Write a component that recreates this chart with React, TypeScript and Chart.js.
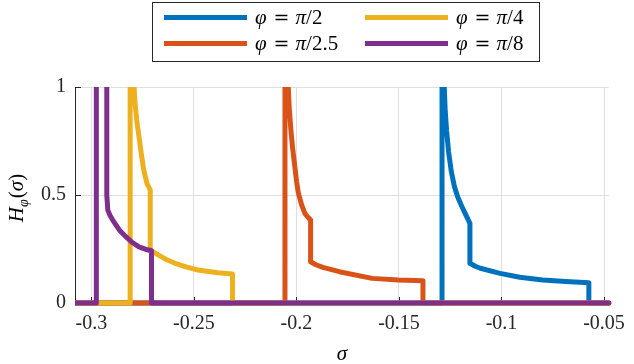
import React, { useEffect, useRef } from 'react';
import { Chart, registerables } from 'chart.js';

Chart.register(...registerables);

// ---------- data ----------
const xTicks = [-0.3, -0.25, -0.2, -0.15, -0.1, -0.05];
const xTickLabels = ['-0.3', '-0.25', '-0.2', '-0.15', '-0.1', '-0.05'];
const yTicks = [0, 0.5, 1];
const yTickLabels = ['0', '0.5', '1'];
const xMin = -0.308;
const xMax = -0.0477;

const seriesLabels = ['π/2', 'π/2.5', 'π/4', 'π/8'];
const seriesColors = ['#0072BD', '#D95319', '#EDB120', '#7E2F8E'];

const sigmaBlue = [-0.308, -0.129, -0.129, -0.1279, -0.1275, -0.1268, -0.1258, -0.1245, -0.123, -0.1213, -0.1195, -0.1175, -0.1154, -0.1154, -0.1128, -0.1103, -0.1007, -0.0911, -0.0799, -0.0687, -0.0574, -0.0574, -0.0477];
const hBlue = [0, 0, 1.6, 1.0, 0.9, 0.8, 0.7, 0.61, 0.54, 0.49, 0.45, 0.41, 0.369, 0.184, 0.17, 0.161, 0.137, 0.119, 0.106, 0.099, 0.094, 0, 0];

const sigmaRed = [-0.308, -0.2056, -0.2056, -0.204, -0.2035, -0.2027, -0.2019, -0.201, -0.1999, -0.1991, -0.1975, -0.1959, -0.1945, -0.1931, -0.1931, -0.1905, -0.1871, -0.1791, -0.1631, -0.1503, -0.1383, -0.1383, -0.0477];
const hRed = [0, 0, 1.6, 1.0, 0.9, 0.8, 0.72, 0.647, 0.56, 0.51, 0.455, 0.415, 0.398, 0.384, 0.191, 0.177, 0.165, 0.145, 0.114, 0.106, 0.103, 0, 0];

const sigmaYellow = [-0.308, -0.2811, -0.2811, -0.2792, -0.2787, -0.2779, -0.2768, -0.2757, -0.2745, -0.2729, -0.2713, -0.2713, -0.2672, -0.2632, -0.2592, -0.2535, -0.248, -0.2384, -0.2312, -0.2312, -0.0477];
const hYellow = [0, 0, 1.6, 1.0, 0.925, 0.847, 0.77, 0.693, 0.616, 0.554, 0.523, 0.245, 0.222, 0.2, 0.184, 0.166, 0.153, 0.14, 0.134, 0, 0];

const sigmaPurple = [-0.308, -0.2976, -0.2976, -0.2925, -0.2925, -0.292, -0.2909, -0.2896, -0.2864, -0.2832, -0.28, -0.2768, -0.2737, -0.2707, -0.2707, -0.0477];
const hPurple = [0, 0, 1.6, 1.6, 0.5, 0.43, 0.405, 0.384, 0.338, 0.307, 0.28, 0.26, 0.249, 0.242, 0, 0];

const seriesSigma = [sigmaBlue, sigmaRed, sigmaYellow, sigmaPurple];
const seriesH = [hBlue, hRed, hYellow, hPurple];

// ---------- style ----------
const SERIF = '"Liberation Serif", "Times New Roman", serif';
const AXIS = '#262626';
const GRID = '#dfdfdf';

type Part = { text: string; font: string; dy?: number; gap?: number };

function partsWidth(ctx: CanvasRenderingContext2D, parts: Part[]) {
  let w = 0;
  for (const p of parts) {
    ctx.font = p.font;
    w += (p.gap || 0) + ctx.measureText(p.text).width;
  }
  return w;
}

function drawParts(ctx: CanvasRenderingContext2D, x: number, y: number, parts: Part[]) {
  let cx = x;
  for (const p of parts) {
    ctx.font = p.font;
    cx += p.gap || 0;
    ctx.fillText(p.text, cx, y + (p.dy || 0));
    cx += ctx.measureText(p.text).width;
  }
}

function legendParts(label: string): Part[] {
  const pi = label.slice(0, 1);
  const rest = label.slice(1);
  return [
    { text: 'φ', font: `italic 21px ${SERIF}` },
    { text: '=', font: `19px "DejaVu Serif", serif`, gap: 7 },
    { text: pi, font: `italic 21px ${SERIF}`, gap: 6 },
    { text: rest, font: `21px ${SERIF}` },
  ];
}

const decorPlugin = {
  id: 'decor',
  beforeDatasetsDraw(chart: any) {
    const ctx = chart.ctx as CanvasRenderingContext2D;
    const { left, bottom } = chart.chartArea;
    const xs = chart.scales.x;
    const ys = chart.scales.y;
    ctx.save();
    ctx.strokeStyle = AXIS;
    ctx.lineWidth = 1;
    ctx.beginPath();
    for (const v of xTicks) {
      const px = Math.round(xs.getPixelForValue(v)) + 0.5;
      ctx.moveTo(px, bottom);
      ctx.lineTo(px, bottom - 6);
    }
    for (const v of yTicks) {
      const py = Math.round(ys.getPixelForValue(v)) + 0.5;
      ctx.moveTo(left, py);
      ctx.lineTo(left + 6, py);
    }
    ctx.stroke();
    ctx.restore();
  },
  afterDraw(chart: any) {
    const ctx = chart.ctx as CanvasRenderingContext2D;
    ctx.save();
    ctx.textBaseline = 'alphabetic';

    // legend box
    ctx.fillStyle = '#fff';
    ctx.fillRect(152.5, 2.5, 387, 59);
    ctx.strokeStyle = AXIS;
    ctx.lineWidth = 1;
    ctx.strokeRect(152.5, 2.5, 387, 59);

    const cols = [164, 365];
    const rows = [17.5, 43.5];
    const order = [
      [0, 0],
      [1, 0],
      [0, 1],
      [1, 1],
    ]; // [row, col] for each series
    seriesLabels.forEach((lab, i) => {
      const [r, c] = order[i];
      const x0 = cols[c];
      const y0 = rows[r];
      ctx.strokeStyle = seriesColors[i];
      ctx.lineWidth = 5;
      ctx.lineCap = 'butt';
      ctx.beginPath();
      ctx.moveTo(x0, y0);
      ctx.lineTo(x0 + 83, y0);
      ctx.stroke();
      ctx.fillStyle = '#000';
      drawParts(ctx, x0 + 91, y0 + 6.5, legendParts(lab));
    });

    // x title
    ctx.fillStyle = '#000';
    ctx.font = `italic 21px ${SERIF}`;
    ctx.textAlign = 'center';
    ctx.fillText('σ', (chart.chartArea.left + chart.chartArea.right) / 2, 360);
    ctx.textAlign = 'left';

    // y title
    const yParts: Part[] = [
      { text: 'H', font: `italic 21px ${SERIF}` },
      { text: 'φ', font: `italic 14px ${SERIF}`, dy: 5 },
      { text: '(', font: `21px ${SERIF}`, gap: 1 },
      { text: 'σ', font: `italic 21px ${SERIF}` },
      { text: ')', font: `21px ${SERIF}` },
    ];
    const w = partsWidth(ctx, yParts);
    ctx.translate(23, 198);
    ctx.rotate(-Math.PI / 2);
    drawParts(ctx, -w / 2, 0, yParts);
    ctx.restore();
  },
};

export default function App() {
  const ref = useRef<HTMLCanvasElement | null>(null);

  useEffect(() => {
    document.body.style.margin = '0';
    const canvas = ref.current;
    if (!canvas) return;

    const datasets = seriesLabels.map((lab, i) => ({
      label: `φ = ${lab}`,
      data: seriesSigma[i].map((s, k) => ({ x: s, y: seriesH[i][k] })),
      borderColor: seriesColors[i],
      backgroundColor: seriesColors[i],
      borderWidth: 5,
      pointRadius: 0,
      tension: 0,
      fill: false,
      borderJoinStyle: 'round' as const,
      borderCapStyle: 'round' as const,
      order: seriesLabels.length - i,
      clip: { left: 0, top: 0, right: 4, bottom: 4 },
    }));

    const chart = new Chart(canvas, {
      type: 'line',
      data: { datasets },
      plugins: [decorPlugin],
      options: {
        animation: false,
        responsive: false,
        maintainAspectRatio: false,
        devicePixelRatio: 1,
        layout: { padding: { top: 87, right: 17, left: 0, bottom: 0 } },
        plugins: { legend: { display: false }, tooltip: { enabled: false }, title: { display: false } },
        scales: {
          x: {
            type: 'linear',
            min: xMin,
            max: xMax,
            afterBuildTicks: (scale: any) => {
              scale.ticks = xTicks.map((v) => ({ value: v }));
            },
            afterFit: (scale: any) => {
              scale.height = 61;
            },
            ticks: {
              color: '#262626',
              font: { family: SERIF, size: 20 },
              padding: 9,
              maxRotation: 0,
              autoSkip: false,
              callback: (_v: any, i: number) => xTickLabels[i],
            },
            grid: { color: GRID, lineWidth: 1, drawTicks: false },
            border: { display: true, color: AXIS, width: 1 },
          },
          y: {
            type: 'linear',
            min: 0,
            max: 1,
            afterBuildTicks: (scale: any) => {
              scale.ticks = yTicks.map((v) => ({ value: v }));
            },
            afterFit: (scale: any) => {
              scale.width = 75;
            },
            ticks: {
              color: '#262626',
              font: { family: SERIF, size: 20 },
              padding: 9,
              callback: (_v: any, i: number) => yTickLabels[i],
            },
            grid: { color: GRID, lineWidth: 1, drawTicks: false },
            border: { display: true, color: AXIS, width: 1 },
          },
        },
      },
    });
    return () => chart.destroy();
  }, []);

  return (
    <div style={{ width: 634, height: 364, position: 'relative' }}>
      <canvas ref={ref} width={634} height={364} style={{ display: 'block' }} />
    </div>
  );
}
